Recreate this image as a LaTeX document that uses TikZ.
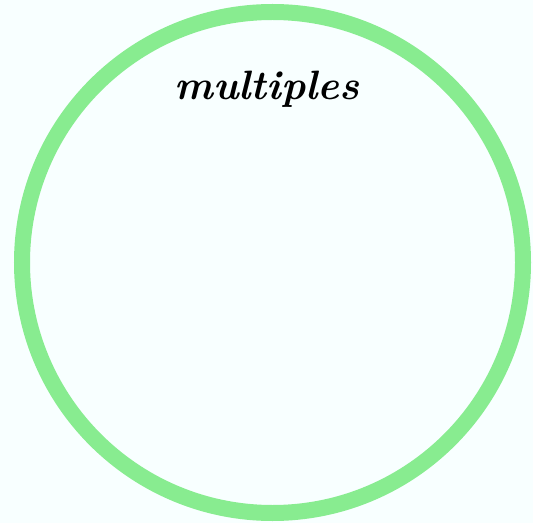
\documentclass[tikz,border=0pt]{standalone}
\definecolor{bgc}{HTML}{F8FFFF}
\definecolor{ringc}{HTML}{88EC90}
\begin{document}
\begin{tikzpicture}[x=1pt,y=1pt,
  ring/.style={draw=ringc,line width=16pt},
  title/.style={font=\fontsize{41}{48}\selectfont\bfseries\itshape,text=black,anchor=base,inner sep=0pt}]
\fill[bgc] (0,0) rectangle (533,523);
\useasboundingbox (0,0) rectangle (533,523);
\node[ring,circle,minimum size=501pt,inner sep=0pt] (c) at (272.5,260.5) {};
\node[title] (t) at (267,423) {multiples};
\end{tikzpicture}
\end{document}
